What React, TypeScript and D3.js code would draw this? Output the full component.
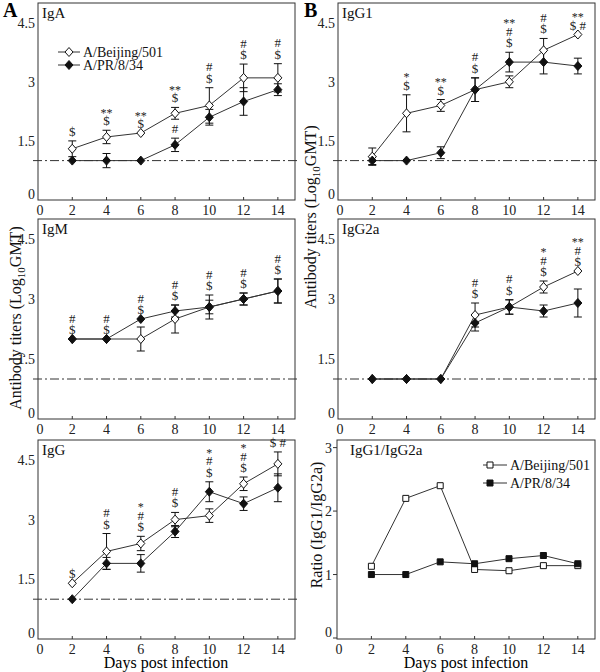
import React from 'react';
import * as d3 from 'd3';

// days post infection
const days = [2, 4, 6, 8, 10, 12, 14];
const xTicks = [0, 2, 4, 6, 8, 10, 12, 14];
const yTicks = [0, 1.5, 3, 4.5];
const ratioTicks = [0, 1, 2, 3];
const seriesNames = ['A/Beijing/501', 'A/PR/8/34'];

// IgA
const igaBeijing = [1.3, 1.6, 1.7, 2.2, 2.4, 3.1, 3.1];
const igaBeijingErr = [0.2, 0.17, 0, 0.15, 0.45, 0.35, 0.36];
const igaPR8 = [1.0, 1.0, 1.0, 1.4, 2.1, 2.5, 2.8];
const igaPR8Err = [0, 0.18, 0, 0.17, 0.2, 0.35, 0.15];
const igaMarks = [['$'], ['$', '**'], ['$', '**'], ['$', '**'], ['$', '#'], ['$', '#'], ['$', '#']];
const igaPR8Marks = [[], [], [], ['#'], [], [], []];

// IgG1
const igg1Beijing = [1.1, 2.2, 2.4, 2.8, 3.0, 3.8, 4.2];
const igg1BeijingErr = [0.22, 0.47, 0.15, 0.3, 0.15, 0.3, 0];
const igg1PR8 = [1.0, 1.0, 1.2, 2.8, 3.5, 3.5, 3.4];
const igg1PR8Err = [0.1, 0, 0.15, 0.3, 0.25, 0.3, 0.2];
const igg1Marks = [[], ['$', '*'], ['$', '**'], ['$', '#'], ['$', '#', '**'], ['$', '#'], ['$ #', '**']];

// IgM
const igmBeijing = [2.0, 2.0, 2.0, 2.5, 2.8, 3.0, 3.2];
const igmBeijingErr = [0, 0, 0.3, 0.35, 0.3, 0.15, 0.3];
const igmPR8 = [2.0, 2.0, 2.5, 2.7, 2.8, 3.0, 3.2];
const igmPR8Err = [0, 0, 0, 0.15, 0.17, 0.15, 0.3];
const igmMarks = [['$', '#'], ['$', '#'], ['$', '#'], ['$', '#'], ['$', '#'], ['$', '#'], ['$', '#']];

// IgG2a
const igg2aBeijing = [1.0, 1.0, 1.0, 2.6, 2.8, 3.3, 3.7];
const igg2aBeijingErr = [0, 0, 0, 0.3, 0.18, 0.15, 0];
const igg2aPR8 = [1.0, 1.0, 1.0, 2.4, 2.8, 2.7, 2.9];
const igg2aPR8Err = [0, 0, 0, 0.2, 0.18, 0.15, 0.35];
const igg2aMarks = [[], [], [], ['$', '#'], ['$', '#'], ['$', '#', '*'], ['$', '#', '**']];

// IgG
const iggBeijing = [1.4, 2.2, 2.4, 3.0, 3.1, 3.9, 4.4];
const iggBeijingErr = [0, 0.45, 0.18, 0.18, 0.17, 0.17, 0.3];
const iggPR8 = [1.0, 1.9, 1.9, 2.7, 3.7, 3.4, 3.8];
const iggPR8Err = [0, 0.15, 0.22, 0.15, 0.25, 0.17, 0.35];
const iggMarks = [['$'], ['$', '#'], ['$', '#', '*'], ['$', '#'], ['$', '#', '*'], ['$', '#', '*'], ['$ #']];

// IgG1/IgG2a ratio
const ratioBeijing = [1.13, 2.2, 2.4, 1.08, 1.06, 1.14, 1.14];
const ratioPR8 = [1.0, 1.0, 1.2, 1.17, 1.25, 1.3, 1.17];

const font = '"Liberation Serif", "Times New Roman", serif';
const diamond = 'M0,-4.5L4,0L0,4.5L-4,0Z';
const square = 'M-3,-3H3V3H-3Z';

function Marker({ x, y, filled, sq }) {
  return (
    <path d={sq ? square : diamond} transform={`translate(${x},${y})`}
      fill={filled ? '#111' : '#fff'} stroke="#111" strokeWidth={1} />
  );
}

function Panel({ x0, x1, top, bottom, title, beijing, beijingErr, pr8, pr8Err, marks, lowMarks, legend, ratio, titleDx = 4 }) {
  const x = d3.scaleLinear().domain([0, 15]).range([x0, x1]);
  const y = ratio
    ? d3.scaleLinear().domain([0, 3.12]).range([bottom - 1, top])
    : d3.scaleLinear().domain([0, 5]).range([bottom, top]);
  const line = d3.line<number>().x((d, i) => x(days[i])).y(d => y(d));
  const ticks = ratio ? ratioTicks : yTicks;
  const bErr = beijingErr || days.map(() => 0);
  const pErr = pr8Err || days.map(() => 0);

  const errBars = (vals, errs) => vals.map((v, i) => errs[i] > 0 ? (
    <g key={i} stroke="#111" strokeWidth={1}>
      <line x1={x(days[i])} x2={x(days[i])} y1={y(v - errs[i])} y2={y(v + errs[i])} />
      <line x1={x(days[i]) - 4} x2={x(days[i]) + 4} y1={y(v - errs[i])} y2={y(v - errs[i])} />
      <line x1={x(days[i]) - 4} x2={x(days[i]) + 4} y1={y(v + errs[i])} y2={y(v + errs[i])} />
    </g>
  ) : null);

  // significance symbols stacked upward above the highest error bar (one text per stack)
  const stack = (labels, anchor, key) => {
    if (!labels.length) return null;
    const base = y(anchor) - 5;
    const cx = x(days[key]);
    return (
      <text key={'s' + key} textAnchor="middle" fill="#222" fontSize={13}>
        {labels.map((lab, k) => {
          const isStar = lab.startsWith('*');
          const yy = base - k * 11.5 + (isStar ? 3 : 0);
          return <tspan key={k} x={cx} y={yy} fontSize={isStar ? 12 : 13}>{lab}</tspan>;
        })}
      </text>
    );
  };

  return (
    <g fontFamily={font}>
      <rect x={x0} y={top} width={x1 - x0} height={bottom - top} fill="none" stroke="#333" strokeWidth={1} />
      {xTicks.filter(t => t > 0).map(t => (
        <line key={'xt' + t} x1={x(t)} x2={x(t)} y1={bottom} y2={bottom - 3} stroke="#333" />
      ))}
      {xTicks.map(t => (
        <text key={'xl' + t} x={x(t) + (t === 0 ? 2 : 0)} y={bottom + 15} textAnchor="middle" fontSize={14} fill="#222">{t}</text>
      ))}
      {ticks.map(t => (
        <g key={'yt' + t}>
          {ratio && <line x1={x0 - 4} x2={x0} y1={y(t)} y2={y(t)} stroke="#333" />}
          <text x={x0 - (ratio ? 5 : 3)} y={y(t) + 5 - (t === 0 ? 6 : 0)} textAnchor="end" fontSize={14} fill="#222">{t}</text>
        </g>
      ))}
      <text x={x0 + titleDx} y={top + 15} fontSize={15} fill="#111">{title}</text>
      {!ratio && (
        <line x1={x0 - 5} x2={x1 + 5} y1={y(1)} y2={y(1)} stroke="#333" strokeWidth={1} strokeDasharray="9,3,2,3" />
      )}
      <path d={line(beijing) || ''} fill="none" stroke="#333" strokeWidth={1} />
      <path d={line(pr8) || ''} fill="none" stroke="#333" strokeWidth={1} />
      {!ratio && errBars(beijing, bErr)}
      {!ratio && errBars(pr8, pErr)}
      {beijing.map((v, i) => <Marker key={'b' + i} x={x(days[i])} y={y(v)} filled={false} sq={ratio} />)}
      {pr8.map((v, i) => <Marker key={'p' + i} x={x(days[i])} y={y(v)} filled={true} sq={ratio} />)}
      {marks && marks.map((labs, i) => stack(labs, Math.max(beijing[i] + bErr[i], pr8[i] + pErr[i]), i))}
      {lowMarks && lowMarks.map((labs, i) => stack(labs, pr8[i] + pErr[i], i))}
      {legend && seriesNames.map((name, k) => (
        <g key={name}>
          <line x1={legend.x} x2={legend.x + legend.w} y1={legend.y + k * legend.dy} y2={legend.y + k * legend.dy} stroke="#333" />
          <Marker x={legend.x + legend.m} y={legend.y + k * legend.dy} filled={k === 1} sq={ratio} />
          <text x={legend.x + legend.w + 3} y={legend.y + k * legend.dy + 5} fontSize={14} fill="#111">{name}</text>
        </g>
      ))}
    </g>
  );
}

function YTitle({ x, y, children }) {
  return (
    <text transform={`translate(${x},${y}) rotate(-90)`} textAnchor="middle" fontSize={16} fontFamily={font} fill="#111">
      {children}
    </text>
  );
}

export default function App() {
  const L = [38, 295];
  const R = [338, 595];
  const rows = [[3, 200], [219, 419], [440, 639]];
  const titerLabel = (
    <>
      Antibody titers (Log<tspan fontSize={11} dy={4}>10</tspan><tspan dy={-4}>GMT)</tspan>
    </>
  );
  return (
    <svg width={600} height={672} style={{ position: 'absolute', left: 0, top: 0, background: '#fff' }}>
      <rect width={600} height={672} fill="#fff" />
      <text x={3} y={17} fontSize={20} fontWeight="bold" fontFamily={font}>A</text>
      <text x={304} y={17} fontSize={20} fontWeight="bold" fontFamily={font}>B</text>

      <Panel x0={L[0]} x1={L[1]} top={rows[0][0]} bottom={rows[0][1]} title="IgA"
        beijing={igaBeijing} beijingErr={igaBeijingErr} pr8={igaPR8} pr8Err={igaPR8Err}
        marks={igaMarks} lowMarks={igaPR8Marks} legend={{ x: 58, y: 52, w: 22, m: 11, dy: 13 }} />
      <Panel x0={R[0]} x1={R[1]} top={rows[0][0]} bottom={rows[0][1]} title="IgG1"
        beijing={igg1Beijing} beijingErr={igg1BeijingErr} pr8={igg1PR8} pr8Err={igg1PR8Err}
        marks={igg1Marks} />
      <Panel x0={L[0]} x1={L[1]} top={rows[1][0]} bottom={rows[1][1]} title="IgM"
        beijing={igmBeijing} beijingErr={igmBeijingErr} pr8={igmPR8} pr8Err={igmPR8Err}
        marks={igmMarks} />
      <Panel x0={R[0]} x1={R[1]} top={rows[1][0]} bottom={rows[1][1]} title="IgG2a"
        beijing={igg2aBeijing} beijingErr={igg2aBeijingErr} pr8={igg2aPR8} pr8Err={igg2aPR8Err}
        marks={igg2aMarks} />
      <Panel x0={L[0]} x1={L[1]} top={rows[2][0]} bottom={rows[2][1]} title="IgG"
        beijing={iggBeijing} beijingErr={iggBeijingErr} pr8={iggPR8} pr8Err={iggPR8Err}
        marks={iggMarks} />
      <Panel x0={337} x1={R[1]} top={rows[2][0]} bottom={rows[2][1]} title="IgG1/IgG2a" titleDx={13}
        beijing={ratioBeijing} pr8={ratioPR8} ratio={true}
        legend={{ x: 483, y: 465, w: 24, m: 7, dy: 18 }} />

      <YTitle x={21} y={318}>{titerLabel}</YTitle>
      <YTitle x={316} y={217}>{titerLabel}</YTitle>
      <YTitle x={322} y={525}>Ratio (IgG1/IgG2a)</YTitle>

      <text x={166} y={668} textAnchor="middle" fontSize={16} fontFamily={font}>Days post infection</text>
      <text x={466} y={668} textAnchor="middle" fontSize={16} fontFamily={font}>Days post infection</text>
    </svg>
  );
}
